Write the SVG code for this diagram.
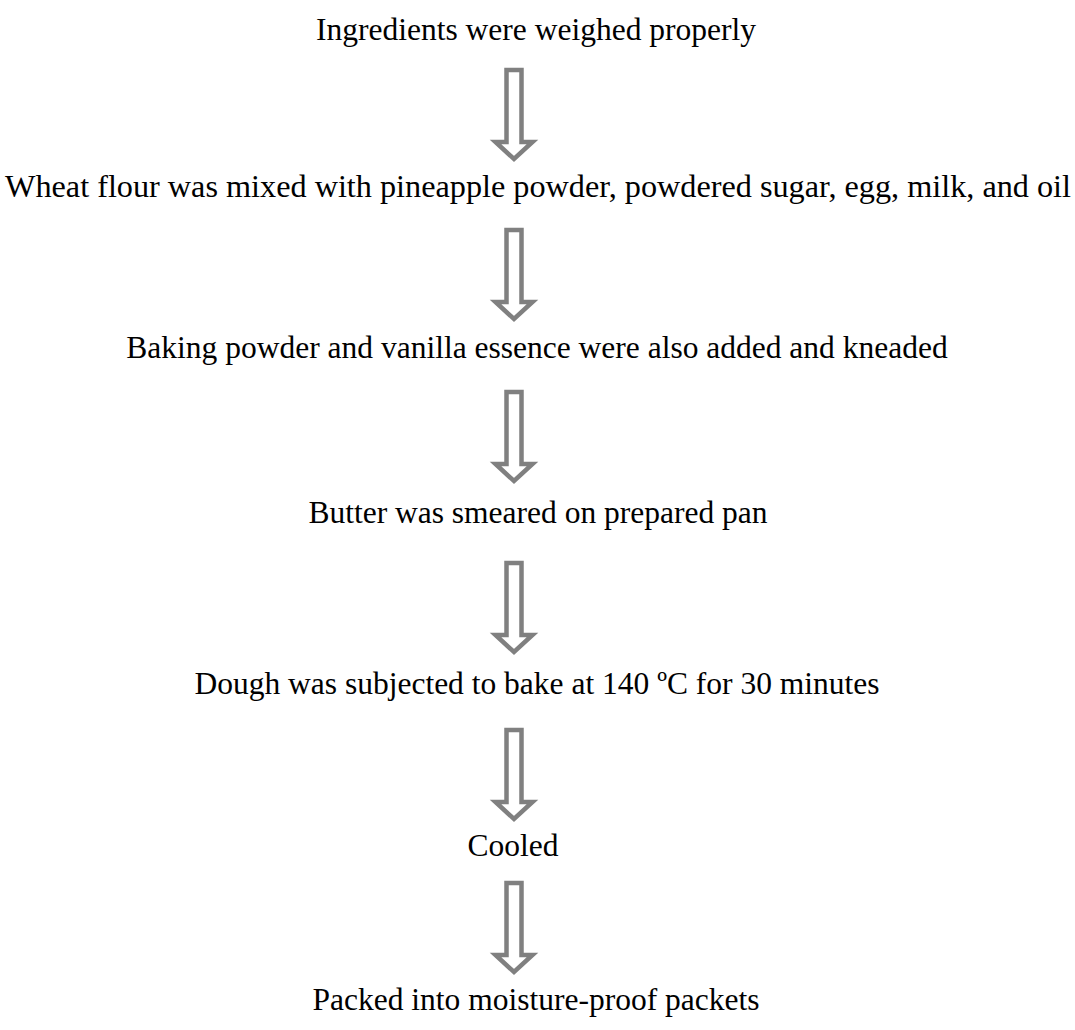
<svg xmlns="http://www.w3.org/2000/svg" width="1075" height="1030" viewBox="0 0 1075 1030">
<style>
text{font-family:"Liberation Serif","Times New Roman",serif;font-size:31.5px;fill:#000;text-anchor:middle}
.arr{fill:#fff;stroke:#808080;stroke-width:4.5;stroke-linejoin:miter}
</style>
<defs>
<path id="ar" class="arr" d="M-7.5 2 L7.5 2 L7.5 74 L18.5 74 L0 91 L-18.5 74 L-7.5 74 Z"/>
</defs>
<rect width="1075" height="1030" fill="#fff"/>
<g id="n1"><text x="536" y="40">Ingredients were weighed properly</text></g>
<g id="n2"><text x="538" y="197" textLength="1066" lengthAdjust="spacingAndGlyphs">Wheat flour was mixed with pineapple powder, powdered sugar, egg, milk, and oil</text></g>
<g id="n3"><text x="537" y="358">Baking powder and vanilla essence were also added and kneaded</text></g>
<g id="n4"><text x="538" y="523">Butter was smeared on prepared pan</text></g>
<g id="n5"><text x="537" y="694">Dough was subjected to bake at 140 ºC for 30 minutes</text></g>
<g id="n6"><text x="513" y="856">Cooled</text></g>
<g id="n7"><text x="536" y="1010">Packed into moisture-proof packets</text></g>
<g id="connectors">
<use href="#ar" x="514" y="68"/>
<use href="#ar" x="514" y="228"/>
<use href="#ar" x="514" y="390"/>
<use href="#ar" x="514" y="561"/>
<use href="#ar" x="514" y="728"/>
<use href="#ar" x="514" y="881"/>
</g>
</svg>
